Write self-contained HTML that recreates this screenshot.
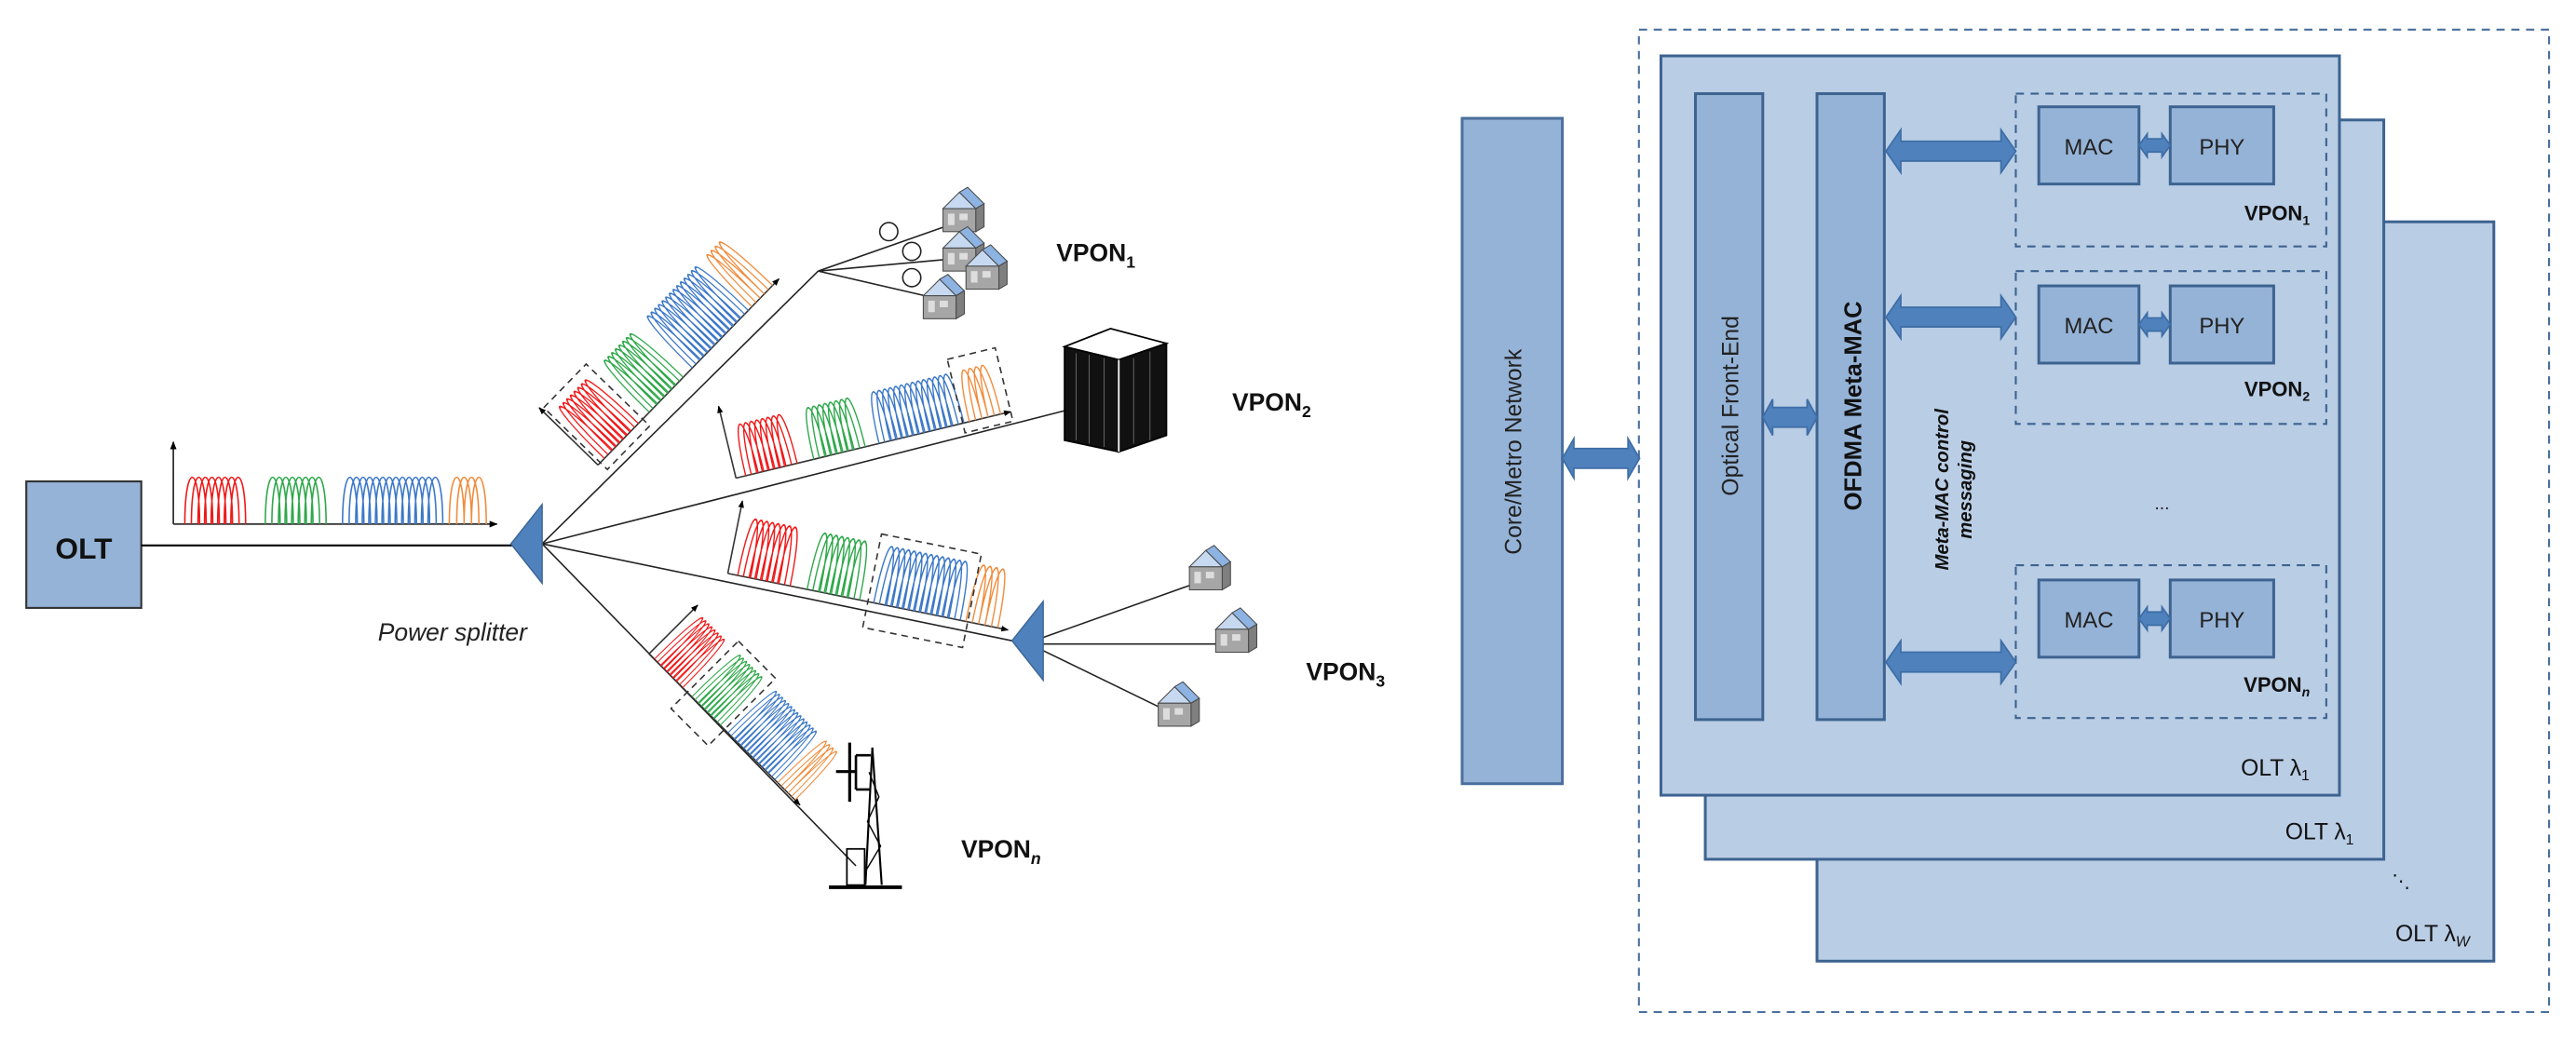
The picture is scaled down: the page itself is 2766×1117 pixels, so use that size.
<!DOCTYPE html>
<html><head><meta charset="utf-8"><style>
html,body{margin:0;padding:0;background:#fff;}
svg{display:block;}
text{font-family:"Liberation Sans",sans-serif;}
</style></head><body>
<svg width="2766" height="1117" viewBox="0 0 1568 633" preserveAspectRatio="none" xmlns="http://www.w3.org/2000/svg">
<defs>
<marker id="ah" viewBox="0 0 10 10" refX="9" refY="5" markerWidth="5" markerHeight="5" orient="auto"><path d="M0 1 L10 5 L0 9z" fill="#000"/></marker>
<g id="peaks">
 <path fill="none" stroke="#f01818" stroke-width="0.9" d="M7 0c0-38 9-38 9 0m-5 0c0-38 9-38 9 0m-5 0c0-38 9-38 9 0m-5 0c0-38 9-38 9 0m-5 0c0-38 9-38 9 0m-5 0c0-38 9-38 9 0m-5 0c0-38 9-38 9 0m-5 0c0-38 9-38 9 0"/>
 <path fill="none" stroke="#2ea84a" stroke-width="0.9" d="M56 0c0-38 9-38 9 0m-5 0c0-38 9-38 9 0m-5 0c0-38 9-38 9 0m-5 0c0-38 9-38 9 0m-5 0c0-38 9-38 9 0m-5 0c0-38 9-38 9 0m-5 0c0-38 9-38 9 0m-5 0c0-38 9-38 9 0"/>
 <path fill="none" stroke="#3c78c8" stroke-width="0.9" d="M103 0c0-38 9-38 9 0m-5 0c0-38 9-38 9 0m-5 0c0-38 9-38 9 0m-5 0c0-38 9-38 9 0m-5 0c0-38 9-38 9 0m-5 0c0-38 9-38 9 0m-5 0c0-38 9-38 9 0m-5 0c0-38 9-38 9 0m-5 0c0-38 9-38 9 0m-5 0c0-38 9-38 9 0m-5 0c0-38 9-38 9 0m-5 0c0-38 9-38 9 0m-5 0c0-38 9-38 9 0m-5 0c0-38 9-38 9 0"/>
 <path fill="none" stroke="#f08c3c" stroke-width="0.9" d="M168 0c0-38 9-38 9 0m-4.5 0c0-38 9-38 9 0m-4.5 0c0-38 9-38 9 0m-4.5 0c0-38 9-38 9 0"/>
</g>
<g id="house">
 <polygon points="0,12 10,2 20,12" fill="#c6d9f1" stroke="#4a4a4a" stroke-width="0.6"/>
 <polygon points="10,2 15,-1 25,9 20,12" fill="#8db3e2" stroke="#4a4a4a" stroke-width="0.6"/>
 <rect x="0" y="12" width="20" height="14" fill="#a6a6a6" stroke="#4a4a4a" stroke-width="0.6"/>
 <polygon points="20,12 25,9 25,23 20,26" fill="#7f7f7f" stroke="#4a4a4a" stroke-width="0.6"/>
 <rect x="3" y="15" width="4" height="7" fill="#ddd"/><rect x="10" y="15" width="5" height="4" fill="#ddd"/>
</g>
</defs>

<!-- OLT -->
<rect x="16" y="293" width="70" height="77" fill="#95b3d7" stroke="#333" stroke-width="1.2"/>
<text x="51" y="340" font-size="18" font-weight="bold" text-anchor="middle" fill="#111">OLT</text>
<line x1="86" y1="332" x2="312" y2="332" stroke="#000" stroke-width="1.2"/>
<g transform="translate(105.5,319)">
 <path d="M0 0 L197 0" stroke="#333" stroke-width="1" fill="none" marker-end="url(#ah)"/>
 <path d="M0 0 L0 -50" stroke="#333" stroke-width="1" fill="none" marker-end="url(#ah)"/>
 <use href="#peaks"/>
</g>

<!-- fibers -->
<g stroke="#222" stroke-width="0.9" fill="none">
<line x1="330" y1="331" x2="498" y2="165"/>
<line x1="330" y1="331" x2="648" y2="250"/>
<line x1="330" y1="331" x2="616" y2="390"/>
<line x1="330" y1="331" x2="521" y2="527"/>
<line x1="635" y1="388" x2="725" y2="356"/>
<line x1="635" y1="392" x2="742" y2="392"/>
<line x1="635" y1="396" x2="707" y2="431"/>
<line x1="498" y1="165" x2="575" y2="138"/>
<line x1="498" y1="165" x2="575" y2="158"/>
<line x1="498" y1="165" x2="563" y2="180"/>
<circle cx="541" cy="141" r="5.5"/><circle cx="555" cy="153" r="5.5"/><circle cx="555" cy="169" r="5.5"/>
</g>
<polygon points="311,331 330,307 330,355" fill="#4f81bd" stroke="#3a6596" stroke-width="0.8"/>
<polygon points="616,390 635,366 635,414" fill="#4f81bd" stroke="#3a6596" stroke-width="0.8"/>
<text x="230" y="390" font-size="15" font-style="italic" fill="#222">Power splitter</text>

<!-- tilted spectra -->
<g transform="translate(364,283) rotate(-45.8)">
 <path d="M0 0 L158 0" stroke="#333" stroke-width="0.9" fill="none" marker-end="url(#ah)"/>
 <path d="M0 0 L0 -50" stroke="#333" stroke-width="0.9" fill="none" marker-end="url(#ah)"/>
 <g transform="scale(0.8,1.45)"><use href="#peaks"/></g>
 <rect x="2" y="-48" width="37" height="54" fill="none" stroke="#333" stroke-dasharray="4,3" stroke-width="0.9"/>
</g>
<g transform="translate(448,291) rotate(-13.6)">
 <path d="M0 0 L172 0" stroke="#333" stroke-width="0.9" fill="none" marker-end="url(#ah)"/>
 <path d="M0 0 L0 -45" stroke="#333" stroke-width="0.9" fill="none" marker-end="url(#ah)"/>
 <g transform="scale(0.87,1.1)"><use href="#peaks"/></g>
 <rect x="142" y="-40" width="30" height="46" fill="none" stroke="#333" stroke-dasharray="4,3" stroke-width="0.9"/>
</g>
<g transform="translate(443,349) rotate(11.4)">
 <path d="M0 0 L174 0" stroke="#333" stroke-width="0.9" fill="none" marker-end="url(#ah)"/>
 <path d="M0 0 L0 -45" stroke="#333" stroke-width="0.9" fill="none" marker-end="url(#ah)"/>
 <g transform="scale(0.88,1.25)"><use href="#peaks"/></g>
 <rect x="87" y="-42" width="62" height="58" fill="none" stroke="#333" stroke-dasharray="4,3" stroke-width="0.9"/>
</g>
<g transform="translate(395,398) rotate(45)">
 <path d="M0 0 L130 0" stroke="#333" stroke-width="0.9" fill="none" marker-end="url(#ah)"/>
 <path d="M0 0 L0 -42" stroke="#333" stroke-width="0.9" fill="none" marker-end="url(#ah)"/>
 <g transform="scale(0.66,1.35)"><use href="#peaks"/></g>
 <rect x="33" y="-44" width="32" height="58" fill="none" stroke="#333" stroke-dasharray="4,3" stroke-width="0.9"/>
</g>

<!-- houses -->
<use href="#house" transform="translate(574,115)"/>
<use href="#house" transform="translate(574,139)"/>
<use href="#house" transform="translate(588,150)"/>
<use href="#house" transform="translate(562,168)"/>
<use href="#house" transform="translate(724,333)"/>
<use href="#house" transform="translate(740,371)"/>
<use href="#house" transform="translate(705,416)"/>

<!-- datacenter -->
<polygon points="648,211 676,200 710,209 681,219" fill="#fff" stroke="#000" stroke-width="1"/>
<polygon points="648,211 681,219 681,275 648,268" fill="#111" stroke="#000" stroke-width="1"/>
<polygon points="681,219 710,209 710,265 681,275" fill="#111" stroke="#000" stroke-width="1"/>
<g stroke="#888" stroke-width="0.4"><line x1="655" y1="215" x2="655" y2="268"/><line x1="663" y1="216" x2="663" y2="270"/><line x1="672" y1="218" x2="672" y2="272"/><line x1="690" y1="218" x2="690" y2="270"/><line x1="700" y1="214" x2="700" y2="268"/></g>
<line x1="681" y1="219" x2="681" y2="275" stroke="#fff" stroke-width="1"/>

<!-- tower -->
<g stroke="#000" fill="none">
<line x1="504.6" y1="540" x2="549" y2="540" stroke-width="2.2"/>
<rect x="515.5" y="516.7" width="10.8" height="22" stroke-width="1"/>
<line x1="531" y1="455" x2="526.8" y2="538.6" stroke-width="1.2"/>
<line x1="531" y1="455" x2="536.7" y2="538.6" stroke-width="1.2"/>
<path d="M529 470 L535 485 L528 500 L536 515 L527 530" stroke-width="0.8"/>
<line x1="508.9" y1="469.6" x2="521" y2="469.6" stroke-width="1.8"/>
<line x1="517.2" y1="452" x2="517.2" y2="488" stroke-width="1.8"/>
<path d="M521 459.7 H530 M521 480.5 H530 M521 459.7 V480.5" stroke-width="1.5"/>
</g>

<!-- VPON labels left -->
<g font-weight="bold" fill="#111" font-size="15">
<text x="643" y="159">VPON<tspan font-size="10" dy="4">1</tspan></text>
<text x="750" y="250">VPON<tspan font-size="10" dy="4">2</tspan></text>
<text x="795" y="414">VPON<tspan font-size="10" dy="4">3</tspan></text>
<text x="585" y="522">VPON<tspan font-size="10" dy="4" font-style="italic">n</tspan></text>
</g>

<!-- RIGHT PANEL -->
<rect x="997.6" y="18" width="554" height="598" fill="none" stroke="#4a6f9c" stroke-width="1.2" stroke-dasharray="5,4"/>
<rect x="890" y="72" width="61" height="405" fill="#95b3d7" stroke="#4a6f9c" stroke-width="1.7"/>
<text transform="translate(926,275) rotate(-90)" font-size="14" text-anchor="middle" fill="#222">Core/Metro Network</text>

<g fill="#b9cde5" stroke="#3d6390" stroke-width="1.7">
<rect x="1106" y="135" width="412" height="450"/>
<rect x="1038" y="73" width="413" height="450"/>
<rect x="1011" y="34" width="413" height="450"/>
</g>
<g fill="#95b3d7" stroke="#3d6390" stroke-width="1.7">
<rect x="1032" y="57" width="41" height="381"/>
<rect x="1106" y="57" width="41" height="381"/>
</g>
<text transform="translate(1058,247) rotate(-90)" font-size="14" text-anchor="middle" fill="#222">Optical Front-End</text>
<text transform="translate(1133,247) rotate(-90)" font-size="14.5" font-weight="bold" text-anchor="middle" fill="#111">OFDMA Meta-MAC</text>
<text transform="translate(1186,298) rotate(-90)" font-size="11.5" font-weight="bold" font-style="italic" text-anchor="middle" fill="#111">Meta-MAC control</text>
<text transform="translate(1200,298) rotate(-90)" font-size="11.5" font-weight="bold" font-style="italic" text-anchor="middle" fill="#111">messaging</text>

<g fill="none" stroke="#3d6390" stroke-width="1.2" stroke-dasharray="5,4">
<rect x="1227" y="57" width="189" height="93"/>
<rect x="1227" y="165" width="189" height="93"/>
<rect x="1227" y="344" width="189" height="93"/>
</g>
<g fill="#95b3d7" stroke="#3d6390" stroke-width="1.7">
<rect x="1241" y="65" width="61" height="47"/><rect x="1321" y="65" width="63" height="47"/>
<rect x="1241" y="174" width="61" height="47"/><rect x="1321" y="174" width="63" height="47"/>
<rect x="1241" y="353" width="61" height="47"/><rect x="1321" y="353" width="63" height="47"/>
</g>
<g font-size="13.5" text-anchor="middle" fill="#222">
<text x="1271.5" y="94">MAC</text><text x="1352.5" y="94">PHY</text>
<text x="1271.5" y="203">MAC</text><text x="1352.5" y="203">PHY</text>
<text x="1271.5" y="382">MAC</text><text x="1352.5" y="382">PHY</text>
</g>
<g font-size="12.5" font-weight="bold" fill="#111" text-anchor="end">
<text x="1406" y="134">VPON<tspan font-size="8" dy="3">1</tspan></text>
<text x="1406" y="241">VPON<tspan font-size="8" dy="3">2</tspan></text>
<text x="1406" y="421">VPON<tspan font-size="8" dy="3" font-style="italic">n</tspan></text>
</g>
<text x="1316" y="310" font-size="11" text-anchor="middle" fill="#222">...</text>

<!-- block arrows -->
<g fill="#4f81bd" stroke="#3e6ea6" stroke-width="1">
<path d="M1148 92 l9 -13 v7 h61 v-7 l9 13 l-9 13 v-7 h-61 v7z"/>
<path d="M1148 193 l9 -13 v7 h61 v-7 l9 13 l-9 13 v-7 h-61 v7z"/>
<path d="M1148 403 l9 -13 v7 h61 v-7 l9 13 l-9 13 v-7 h-61 v7z"/>
<path d="M951 279 l7 -12 v6 h33 v-6 l7 12 l-7 12 v-6 h-33 v6z"/>
<path d="M1073 254 l6 -11 v5 h21 v-5 l6 11 l-6 11 v-5 h-21 v5z"/>
<path d="M1302 88.5 l5 -7 v3 h9 v-3 l5 7 l-5 7 v-3 h-9 v3z"/>
<path d="M1302 197.5 l5 -7 v3 h9 v-3 l5 7 l-5 7 v-3 h-9 v3z"/>
<path d="M1302 376.5 l5 -7 v3 h9 v-3 l5 7 l-5 7 v-3 h-9 v3z"/>
</g>

<g font-size="14" fill="#111">
<text x="1364" y="472">OLT λ<tspan font-size="9" dy="3">1</tspan></text>
<text x="1391" y="511">OLT λ<tspan font-size="9" dy="3">1</tspan></text>
<text x="1458" y="573">OLT λ<tspan font-size="9" dy="3" font-style="italic">W</tspan></text>
<text x="1456" y="540" font-size="11">⋱</text>
</g>
</svg>
</body></html>
